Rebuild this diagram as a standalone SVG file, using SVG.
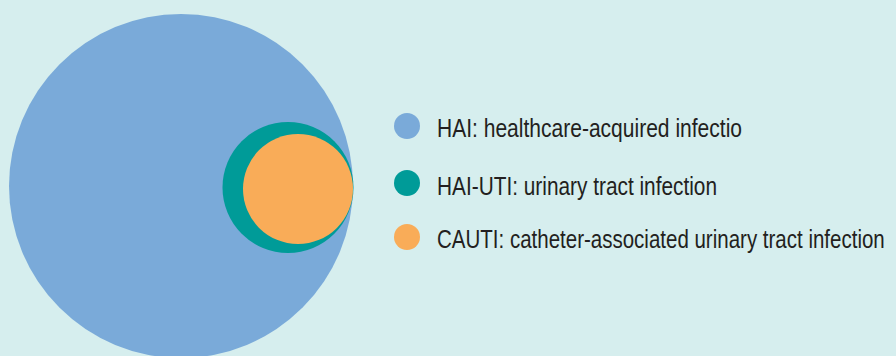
<svg xmlns="http://www.w3.org/2000/svg" width="896" height="356" viewBox="0 0 896 356">
<style>
.t{font-family:"Liberation Sans",Arial,sans-serif;font-size:25px;fill:#231f20}
</style>
<rect width="896" height="356" fill="#d6eeee"/>
<g id="hai"><circle cx="181" cy="186" r="172" fill="#7aaad9"/></g>
<g id="hai-uti"><circle cx="288" cy="187.5" r="65.5" fill="#009b98"/></g>
<g id="cauti"><circle cx="298" cy="189" r="55" fill="#f9ac58"/></g>
<g id="connectors"></g>
<g id="legend-hai"><circle cx="407" cy="126" r="13" fill="#7aaad9"/><text class="t" x="437" y="137" textLength="305" lengthAdjust="spacingAndGlyphs">HAI: healthcare-acquired infectio</text></g>
<g id="legend-hai-uti"><circle cx="407" cy="183" r="13" fill="#009b98"/><text class="t" x="437" y="195" textLength="280" lengthAdjust="spacingAndGlyphs">HAI-UTI: urinary tract infection</text></g>
<g id="legend-cauti"><circle cx="407" cy="237" r="13" fill="#f9ac58"/><text class="t" transform="translate(437,248) scale(0.82,1)" x="0" y="0">CAUTI: catheter-associated urinary tract infection</text></g>
</svg>
